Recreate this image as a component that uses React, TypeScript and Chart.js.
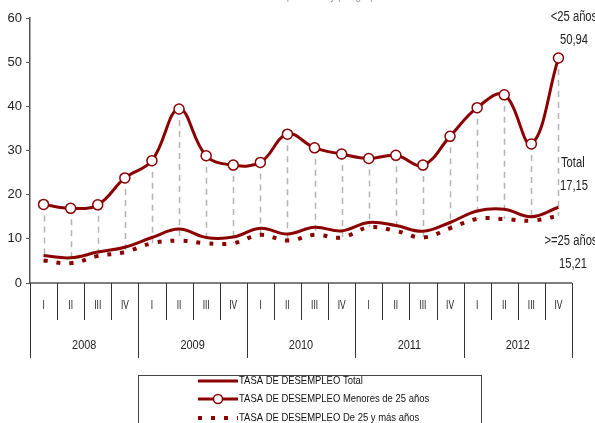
import React, { useEffect, useRef } from 'react';
import { Chart, registerables } from 'chart.js';

Chart.register(...registerables);

const quarters = ['I', 'II', 'III', 'IV'];
const years = ['2008', '2009', '2010', '2011', '2012'];
const labels = years.flatMap((y) => quarters.map((q) => `${q} ${y}`));

const under25 = [17.8, 16.9, 17.7, 23.8, 27.7, 39.4, 28.8, 26.7, 27.3, 33.7, 30.6, 29.2, 28.2, 28.9, 26.7, 33.2, 39.7, 42.6, 31.5, 50.94];
const total = [6.2, 5.7, 7.0, 8.1, 10.3, 12.2, 10.3, 10.4, 12.4, 11.1, 12.6, 11.8, 13.7, 13.0, 11.7, 13.7, 16.3, 16.7, 15.0, 17.15];
const over25 = [5.1, 4.5, 6.1, 7.0, 9.0, 9.6, 9.0, 9.0, 10.9, 9.6, 10.9, 10.3, 12.6, 11.8, 10.3, 12.4, 14.5, 14.5, 14.1, 15.21];

const seriesNames = [
  'TASA DE DESEMPLEO Total',
  'TASA DE DESEMPLEO Menores de 25 años',
  'TASA DE DESEMPLEO De 25 y más años',
];
const titleText = 'Tasa de desempleo total y por grupos de edad';

const FONT = "'Liberation Sans', Arial, sans-serif";
const RED = '#8B0000';
const AXIS = '#555555';
const SQUEEZE = 0.84;

const fmt = (v: number) => v.toFixed(2).replace('.', ',');

function text(ctx: CanvasRenderingContext2D, t: string, x: number, y: number, sx = SQUEEZE) {
  ctx.save();
  ctx.translate(x, y);
  ctx.scale(sx, 1);
  ctx.fillText(t, 0, 0);
  ctx.restore();
}

const decor = {
  id: 'decor',
  beforeDatasetsDraw(chart: any) {
    const { ctx } = chart;
    const x = chart.scales.x;
    const y = chart.scales.y;
    ctx.save();
    ctx.strokeStyle = '#b4b4b4';
    ctx.lineWidth = 1.5;
    ctx.setLineDash([6, 5]);
    under25.forEach((v, i) => {
      const px = Math.round(x.getPixelForValue(i)) + 0.5;
      ctx.beginPath();
      ctx.moveTo(px, y.getPixelForValue(v));
      ctx.lineTo(px, y.getPixelForValue(over25[i]));
      ctx.stroke();
    });
    ctx.restore();
  },
  afterDraw(chart: any) {
    const { ctx, chartArea } = chart;
    const x = chart.scales.x;
    const y = chart.scales.y;
    const step = x.getPixelForValue(1) - x.getPixelForValue(0);
    const base = y.getPixelForValue(0);
    ctx.save();
    // x axis line
    ctx.strokeStyle = AXIS;
    ctx.lineWidth = 1.5;
    ctx.beginPath();
    ctx.moveTo(chartArea.left, base);
    ctx.lineTo(chartArea.right, base);
    ctx.stroke();
    // separators
    ctx.lineWidth = 1;
    ctx.strokeStyle = '#333';
    for (let i = 0; i <= labels.length; i++) {
      const bx = Math.round(x.getPixelForValue(i) - step / 2) + 0.5;
      const isYear = i % quarters.length === 0;
      ctx.beginPath();
      ctx.moveTo(bx, base);
      ctx.lineTo(bx, isYear ? 358 : 320);
      ctx.stroke();
    }
    // quarter labels
    ctx.fillStyle = '#222';
    ctx.textAlign = 'center';
    ctx.textBaseline = 'middle';
    ctx.font = `12px ${FONT}`;
    labels.forEach((_, i) => {
      text(ctx, quarters[i % 4], x.getPixelForValue(i), 306, 0.7);
    });
    ctx.font = `13px ${FONT}`;
    years.forEach((yr, j) => {
      const cx = (x.getPixelForValue(j * 4) + x.getPixelForValue(j * 4 + 3)) / 2;
      text(ctx, yr, cx, 345);
    });
    // right annotations
    ctx.font = `14px ${FONT}`;
    ctx.fillStyle = '#222';
    text(ctx, '<25 años', 574, 17, 0.8);
    text(ctx, fmt(under25[under25.length - 1]), 574, 40, 0.8);
    ctx.textAlign = 'left';
    text(ctx, 'Total', 561, 163, 0.8);
    text(ctx, fmt(total[total.length - 1]), 560, 186, 0.8);
    ctx.textAlign = 'center';
    text(ctx, '>=25 años', 571, 241, 0.8);
    text(ctx, fmt(over25[over25.length - 1]), 573, 264, 0.8);
    // title (cut off at top)
    ctx.fillStyle = '#999';
    ctx.font = `12px ${FONT}`;
    ctx.textBaseline = 'alphabetic';
    text(ctx, titleText, 322, -1);
    // legend
    ctx.strokeStyle = '#444';
    ctx.lineWidth = 1;
    ctx.strokeRect(138.5, 375.5, 343, 60);
    const rows = [381, 399, 418];
    ctx.font = `11px ${FONT}`;
    ctx.textAlign = 'left';
    ctx.textBaseline = 'middle';
    rows.forEach((ry, k) => {
      ctx.strokeStyle = RED;
      ctx.setLineDash(k === 2 ? [4, 9] : []);
      ctx.lineWidth = k === 2 ? 4 : 3;
      ctx.beginPath();
      ctx.moveTo(198, ry);
      ctx.lineTo(238, ry);
      ctx.stroke();
      ctx.setLineDash([]);
      if (k === 1) {
        ctx.beginPath();
        ctx.arc(218, ry, 4.5, 0, Math.PI * 2);
        ctx.fillStyle = '#fff';
        ctx.fill();
        ctx.lineWidth = 1.5;
        ctx.stroke();
      }
      ctx.fillStyle = '#111';
      text(ctx, seriesNames[k], 239, ry, 0.86);
    });
    ctx.restore();
  },
};

export default function App() {
  const ref = useRef<HTMLCanvasElement>(null);
  useEffect(() => {
    if (!ref.current) return;
    const chart = new Chart(ref.current, {
      type: 'line',
      data: {
        labels,
        datasets: [
          {
            label: seriesNames[0],
            data: total,
            borderColor: RED,
            borderWidth: 3,
            pointRadius: 0,
            tension: 0.4,
          },
          {
            label: seriesNames[2],
            data: over25,
            borderColor: RED,
            borderWidth: 4,
            borderDash: [4, 9],
            borderCapStyle: 'butt',
            pointRadius: 0,
            tension: 0.4,
          },
          {
            label: seriesNames[1],
            data: under25,
            borderColor: RED,
            borderWidth: 3,
            pointRadius: 5,
            pointBackgroundColor: '#fff',
            pointBorderColor: RED,
            pointBorderWidth: 1.5,
            tension: 0.4,
          },
        ],
      },
      options: {
        animation: false,
        responsive: false,
        maintainAspectRatio: false,
        layout: { padding: { top: 18, right: 23, bottom: 140, left: 0 } },
        plugins: {
          legend: { display: false },
          tooltip: { enabled: false },
          title: { display: false },
        },
        scales: {
          x: { display: false, offset: true },
          y: {
            min: 0,
            max: 60,
            ticks: { stepSize: 10, color: '#222', font: { family: FONT, size: 13 }, padding: 4 },
            grid: { drawOnChartArea: false, drawTicks: true, tickLength: 4, color: AXIS },
            border: { display: true, color: AXIS, width: 1.5 },
            afterFit: (s: any) => {
              s.width = 30;
            },
          },
        },
      },
      plugins: [decor],
    } as any);
    return () => chart.destroy();
  }, []);
  return (
    <div style={{ position: 'fixed', left: 0, top: 0, width: 595, height: 423 }}>
      <canvas ref={ref} width={595} height={423} style={{ width: 595, height: 423 }} />
    </div>
  );
}
